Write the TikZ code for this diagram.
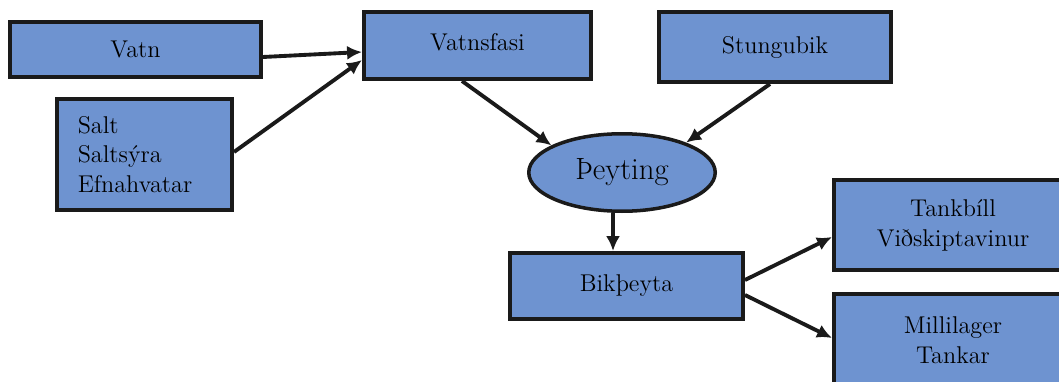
\documentclass[tikz,border=0pt]{standalone}
\usepackage{fontspec}
\setmainfont{Latin Modern Roman}
\usepackage{tikz}
\usetikzlibrary{positioning,shapes,arrows.meta,calc}
\definecolor{boxblue}{HTML}{6E93D0}
\definecolor{edge}{HTML}{1A1A1A}
\tikzset{
  box/.style={draw=edge, fill=boxblue, line width=2pt, rectangle, inner sep=0pt,
    align=center, font=\fontsize{13.8}{17}\selectfont},
  oval/.style={draw=edge, fill=boxblue, line width=2pt, ellipse, inner sep=0pt,
    font=\fontsize{17.5}{20}\selectfont},
  flow/.style={draw=edge, line width=2.2pt, -{Latex[length=8.5pt,width=8pt]}}
}

\begin{document}
\begin{tikzpicture}[x=0.02cm, y=-0.02cm]
  \useasboundingbox (0,0) rectangle (1059,382);
  \clip (0,0) rectangle (1059,382);
  \node[box, minimum width=5.03cm, minimum height=1.11cm] (vatn) at (135.5,49.5) {Vatn};
  \node[box, minimum width=3.51cm, minimum height=2.23cm, inner xsep=0.42cm, text width=2.67cm, align=left] (salt) at (144.5,154.5) {Salt\\Saltsýra\\Efnahvatar};
  \node[box, minimum width=4.55cm, minimum height=1.35cm] (fasi) at (477.5,45.5) {\raisebox{4.5pt}{Vatnsfasi}};
  \node[box, minimum width=4.65cm, minimum height=1.41cm] (stungu) at (775,47) {\raisebox{1.5pt}{Stungubik}};
  \node[oval, minimum width=3.73cm, minimum height=1.55cm] (peyting) at (622,172.5) {Þeyting};
  \node[box, minimum width=4.67cm, minimum height=1.33cm] (bik) at (626.5,286) {Bikþeyta};
  \node[box, minimum width=4.77cm, minimum height=1.81cm] (tank) at (953,225) {Tankbíll\\Viðskiptavinur};
  \node[box, minimum width=4.77cm, minimum height=1.85cm] (milli) at (953,340) {Millilager\\Tankar};

  \draw[flow] ([yshift=-0.15cm]vatn.east) -- ([yshift=-0.13cm]fasi.west);
  \draw[flow] ([yshift=0.05cm]salt.east) -- ([yshift=-0.29cm]fasi.west);
  \draw[flow] ([xshift=-0.31cm]fasi.south) -- (peyting.159);
  \draw[flow] ([xshift=-0.1cm]stungu.south) -- (peyting.25);
  \draw[flow] ([xshift=-0.18cm]peyting.south) -- ([xshift=-0.27cm]bik.north);
  \draw[flow] ([yshift=0.12cm]bik.east) -- ([yshift=-0.24cm]tank.west);
  \draw[flow] ([yshift=-0.18cm]bik.east) -- ([yshift=0.04cm]milli.west);
\end{tikzpicture}
\end{document}
